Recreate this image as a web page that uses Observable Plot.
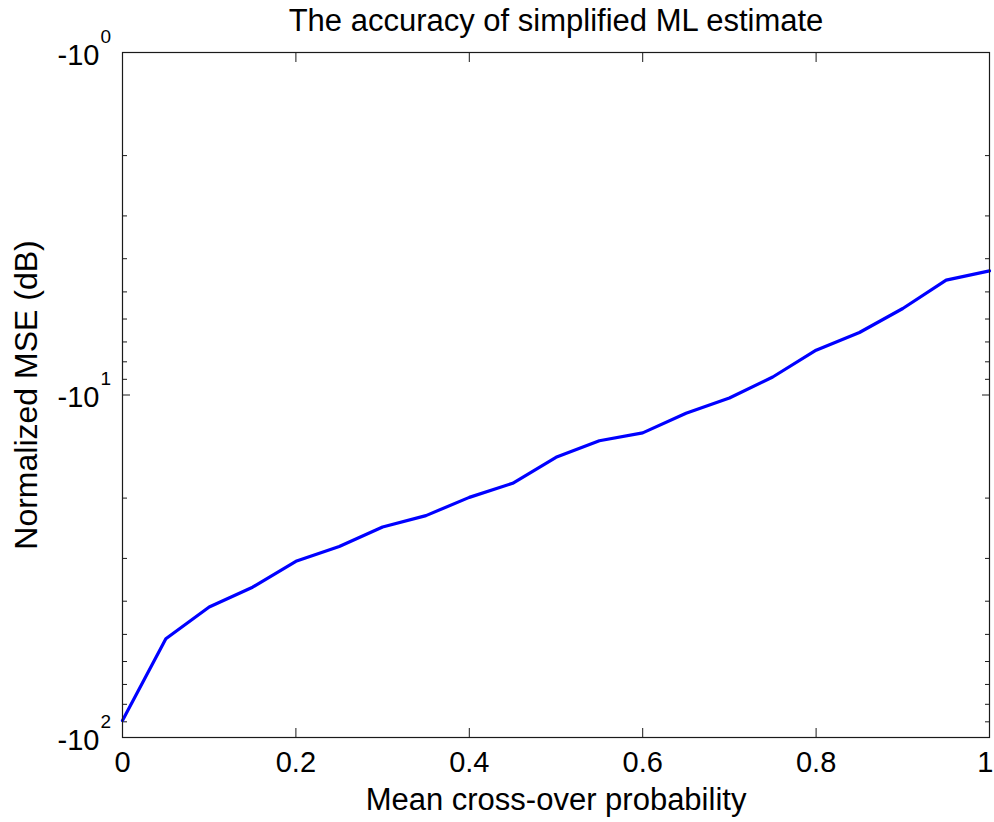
<!DOCTYPE html>
<html>
<head>
<meta charset="utf-8">
<script src="https://cdn.jsdelivr.net/npm/d3@7"></script>
<script src="https://cdn.jsdelivr.net/npm/@observablehq/plot@0.6"></script>
<style>
  body { margin: 0; background: #ffffff; }
  #chart svg { display: block; }
</style>
</head>
<body>
<div id="chart"></div>
<script>
// ---- Data ----
const crossover = [0, 0.05, 0.1, 0.15, 0.2, 0.25, 0.3, 0.35, 0.4, 0.45, 0.5,
                   0.55, 0.6, 0.65, 0.7, 0.75, 0.8, 0.85, 0.9, 0.95, 1];
const normalizedMSE = [-89.2, -51.5, -41.6, -36.4, -30.6, -27.7, -24.3, -22.5, -19.9, -18.1, -15.2,
                       -13.6, -12.9, -11.3, -10.2, -8.86, -7.40, -6.57, -5.59, -4.62, -4.34];

const xTicks = [0, 0.2, 0.4, 0.6, 0.8, 1];
const xTickLabels = ["0", "0.2", "0.4", "0.6", "0.8", "1"];
const yMajorTicks = [-1, -10, -100];
const yTickBase = ["-10", "-10", "-10"];
const yTickExponent = ["0", "1", "2"];
const yMinorTicks = [-2, -3, -4, -5, -6, -7, -8, -9, -20, -30, -40, -50, -60, -70, -80, -90];

const titleText = "The accuracy of simplified ML estimate";
const xLabelText = "Mean cross-over probability";
const yLabelText = "Normalized MSE (dB)";

// ---- Build tables ----
const series = crossover.map((x, i) => ({x, y: normalizedMSE[i]}));
const xTickTable = xTicks.map((v, i) => ({v, label: xTickLabels[i]}));
const xTickInner = xTickTable.slice(0, -1);
const xTickLast = xTickTable.slice(-1);
const yTickTable = yMajorTicks.map((v, i) => ({v, base: yTickBase[i], exp: yTickExponent[i]}));

const font = "'Liberation Sans', Arial, Helvetica, sans-serif";
const axisColor = "#1a1a1a";
const blank = () => "";

const chart = Plot.plot({
  width: 994,
  height: 822,
  marginLeft: 122,
  marginRight: 5,
  marginTop: 52,
  marginBottom: 85,
  style: {fontFamily: font, background: "#ffffff", color: axisColor, overflow: "visible"},
  x: {domain: [0, 1]},
  y: {type: "log", domain: [-100, -1]},
  marks: [
    // ticks (inward) on all four sides
    Plot.axisX(xTicks, {anchor: "bottom", tickSize: -9, tickFormat: blank, label: null, stroke: axisColor}),
    Plot.axisX(xTicks, {anchor: "top", tickSize: -9, tickFormat: blank, label: null, stroke: axisColor}),
    Plot.axisY(yMajorTicks, {anchor: "left", tickSize: -8, tickFormat: blank, label: null, stroke: axisColor}),
    Plot.axisY(yMinorTicks, {anchor: "left", tickSize: -5, tickFormat: blank, label: null, stroke: axisColor}),
    Plot.axisY(yMajorTicks, {anchor: "right", tickSize: -8, tickFormat: blank, label: null, stroke: axisColor}),
    Plot.axisY(yMinorTicks, {anchor: "right", tickSize: -5, tickFormat: blank, label: null, stroke: axisColor}),
    // x tick labels
    Plot.text(xTickInner, {x: "v", text: "label", frameAnchor: "bottom", lineAnchor: "top",
      textAnchor: "middle", dy: 14, fontSize: 29, fill: "#000"}),
    Plot.text(xTickLast, {x: "v", text: "label", frameAnchor: "bottom", lineAnchor: "top",
      textAnchor: "end", dx: 4, dy: 14, fontSize: 29, fill: "#000"}),
    // y tick labels: -10 with superscript exponent
    Plot.text(yTickTable, {y: "v", text: "base", frameAnchor: "left", textAnchor: "end",
      lineAnchor: "middle", dx: -23, dy: 3, fontSize: 29, fill: "#000"}),
    Plot.text(yTickTable, {y: "v", text: "exp", frameAnchor: "left", textAnchor: "start",
      lineAnchor: "middle", dx: -22, dy: -16, fontSize: 19, fill: "#000"}),
    // data line
    Plot.line(series, {x: "x", y: "y", stroke: "#0000ff", strokeWidth: 3.2}),
    // box
    Plot.frame({stroke: axisColor, strokeWidth: 1.2}),
    // title and axis labels
    Plot.text([titleText], {text: d => d, frameAnchor: "top", lineAnchor: "middle", textAnchor: "middle",
      dy: -31, fontSize: 31, fill: "#000"}),
    Plot.text([xLabelText], {text: d => d, frameAnchor: "bottom", lineAnchor: "middle", textAnchor: "middle",
      dy: 63, fontSize: 31, fill: "#000"}),
    Plot.text([yLabelText], {text: d => d, frameAnchor: "left", lineAnchor: "middle", textAnchor: "middle",
      rotate: -90, dx: -96, fontSize: 32, fill: "#000"})
  ]
});

document.getElementById("chart").appendChild(chart);
</script>
</body>
</html>
